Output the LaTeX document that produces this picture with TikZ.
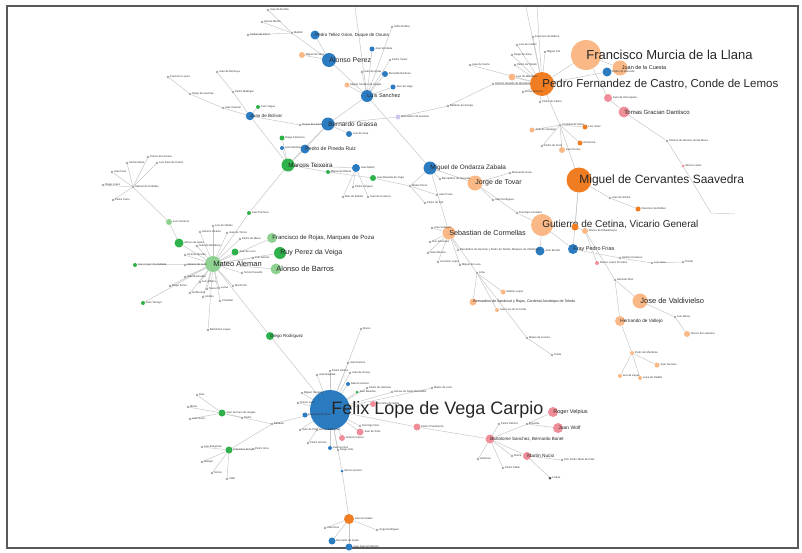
\documentclass[tikz,border=0pt]{standalone}
\usepackage{fontspec}
\setmainfont{Liberation Sans}
\usepackage{xcolor}
\usepackage{tikz}
\pgfdeclarelayer{edges}
\pgfsetlayers{edges,main}
\definecolor{pblue}{HTML}{2B7BC1}
\definecolor{porange}{HTML}{F07D22}
\definecolor{plorange}{HTML}{F9B886}
\definecolor{pgreen}{HTML}{2FB14C}
\definecolor{plgreen}{HTML}{8FD190}
\definecolor{ppink}{HTML}{EF8D98}
\definecolor{plilac}{HTML}{C9C7EE}

\begin{document}
\begin{tikzpicture}[x=1pt,y=-1pt,
		pers/.style={circle,inner sep=0pt,minimum size=#1},
		lab/.style={inner sep=0pt,text=black!85,font=\fontsize{#1}{#1}\selectfont},
		minor/.style={pers=2.6,fill=black!35,label={[lab=2.7,xshift=0.4pt,text=black!80]right:#1}},
		link/.style={draw=black!22,line width=0.5pt}]
		\useasboundingbox (0,0) rectangle (802,552);
		\draw[black!65,line width=1.2pt] (7,6) rectangle (798,548);
		% top blue group
		\node[pers=14,fill=pblue,label={[lab=7,xshift=-7pt]right:Alonso Perez}] (aperez) at (329,60) {};
		\node[pers=9,fill=pblue,label={[lab=4.5,xshift=-4.5pt]right:Pedro Tellez Giron, Duque de Osuna}] (osuna) at (315,35) {};
		\node[pers=12,fill=pblue,label={[lab=5.5,xshift=-6pt]right:Luis Sanchez}] (lsanchez) at (367,96) {};
		\node[pers=13,fill=pblue,label={[lab=6.4,xshift=-6.5pt]right:Bernardo Grassa}] (bgrassa) at (328,124) {};
		\node[pers=9,fill=pblue,label={[lab=5.2,xshift=-4.5pt]right:Pedro de Pineda Ruiz}] (pineda) at (305,149) {};
		\node[pers=8.5,fill=pblue,label={[lab=4.6,xshift=-4.2pt]right:Juan de Bolivar}] (bolivar) at (250,116) {};
		\node[pers=13,fill=pgreen,label={[lab=6.3,xshift=-6.5pt]right:Marcos Teixeira}] (teixeira) at (288,165) {};
		\node[minor=Madrid] (b1) at (292,33) {};
		\node[minor=Juan de Bonilla] (b2) at (268,10) {};
		\node[minor=Alonso Martin] (b3) at (262,22) {};
		\node[minor=Andres de Parra] (b4) at (248,35) {};
		\node[minor=Miguel de Siles,pers=6,fill=plorange] (b5) at (302,55) {};
		\node[minor=Juan de Mena,pers=5,fill=pblue] (b6) at (372,49) {};
		\node[minor=Isidro Robles] (b7) at (392,27) {};
		\node[minor=Pedro Yanez] (b8) at (390,60) {};
		\node[minor=Juan de Ayala] (b9) at (362,72) {};
		\node[minor=Bernardo Barbosa,pers=6,fill=pblue] (b10) at (385,74) {};
		\node[minor=Jose de Vega,pers=5,fill=pblue] (b11) at (393,87) {};
		\node[minor=Miguel Serrano de Vargas,pers=5,fill=plorange] (b12) at (347,85) {};
		\node[minor=Bernardino de Guzman,pers=5,fill=plilac] (b13) at (398,117) {};
		\node[minor=Baltasar de Zuniga] (b14) at (448,106) {};
		\node[minor=Luis de Sosa,pers=6,fill=pblue] (b15) at (349,134) {};
		\node[minor=Roque de Huerta] (b16) at (300,125) {};
		\node[minor=Diego Flamenco,pers=5,fill=pgreen] (b17) at (282,138) {};
		\node[minor=Juan Martinez,pers=4,fill=pblue] (b18) at (282,148) {};
		\node[minor=Juan Yague,pers=4,fill=pgreen] (b19) at (258,107) {};
		\node[minor=Pedro Madrigal] (b20) at (233,92) {};
		\node[minor=Juan de Montoya] (b21) at (217,72) {};
		\node[minor=Juan Gracian] (b22) at (223,108) {};
		\node[minor=Diego de Guzman] (b23) at (190,94) {};
		\node[minor=Francisco Lopez] (b24) at (168,77) {};
		\node[minor=Juan Mallol,pers=8,fill=pblue] (b25) at (356,168) {};
		\node[minor=Juan Bautista de Vega,pers=6,fill=pgreen] (b26) at (373,178) {};
		\node[minor=Miguel de Ribera,pers=4,fill=pgreen] (b27) at (328,172) {};
		\node[minor=Blas de Robles] (b29) at (343,197) {};
		\node[minor=Juan de la Serna] (b30) at (368,197) {};
		\node[minor=Pedro Vergara] (b31) at (353,187) {};
		\coordinate (topA) at (355,7);
		% green group
		\node[pers=16,fill=plgreen,label={[lab=7.5,xshift=-8pt]right:Mateo Aleman}] (aleman) at (213,264) {};
		\node[pers=10,fill=plgreen,label={[lab=6,xshift=-5pt]right:Francisco de Rojas, Marques de Poza}] (rojas) at (272,238) {};
		\node[pers=12,fill=pgreen,label={[lab=7,xshift=-6pt]right:Ruy Perez da Veiga}] (veiga) at (280,253) {};
		\node[pers=11,fill=plgreen,label={[lab=7.5,xshift=-5.5pt]right:Alonso de Barros}] (barros) at (276,269) {};
		\node[pers=8,fill=pgreen,label={[lab=4.4,xshift=-4pt]right:Diego Rodriguez}] (drodriguez) at (270,336) {};
		\node[minor=Juan de Leon,pers=7,fill=pgreen] (g1) at (235,252) {};
		\node[minor=Alonso de Ayala,pers=9,fill=pgreen] (g2) at (179,243) {};
		\node[minor=Luis Cisneros,pers=6,fill=plgreen] (g3) at (169,222) {};
		\node[minor=Juan Pacheco,pers=4,fill=pgreen] (g4) at (249,213) {};
		\node[minor=Gabriel de Ceballos] (g5) at (133,187) {};
		\node[minor=Juan Diaz] (g6) at (112,172) {};
		\node[minor=Diego Lopez] (g7) at (103,185) {};
		\node[minor=Pedro Cano] (g8) at (113,200) {};
		\node[minor=Andres Baez] (g9) at (127,163) {};
		\node[minor=Tomas de Herrera] (g10) at (148,157) {};
		\node[minor=Luis Paez de Castro] (g11) at (157,163) {};
		\node[minor=Juan Lopez de Andrada,pers=4,fill=pgreen] (g12) at (135,265) {};
		\node[minor=Antonio de Leon] (g13) at (185,265) {};
		\node[minor=Vicente Alvarez] (g14) at (185,255) {};
		\node[minor=Juan de Mendoza] (g15) at (197,246) {};
		\node[minor=Antonio Alvarez] (g16) at (200,232) {};
		\node[minor=Luis de Valdes] (g17) at (213,226) {};
		\node[minor=Juan de Torres] (g18) at (227,233) {};
		\node[minor=Pedro de Mena] (g19) at (240,239) {};
		\node[minor=Luis Gomez] (g20) at (253,258) {};
		\node[minor=Simon Faxardo] (g21) at (242,273) {};
		\node[minor=Juan Bermudez] (g22) at (185,277) {};
		\node[minor=Luis Ribero] (g23) at (200,282) {};
		\node[minor=Nunez] (g24) at (207,289) {};
		\node[minor=Diego Perez] (g25) at (170,286) {};
		\node[minor=Gil Moreno] (g26) at (190,293) {};
		\node[minor=Andres] (g27) at (203,297) {};
		\node[minor=Lucas] (g28) at (219,288) {};
		\node[minor=Martin Gil] (g29) at (233,286) {};
		\node[minor=Cristobal] (g30) at (220,301) {};
		\node[minor=Juan Tamayo,pers=4,fill=pgreen] (g31) at (143,303) {};
		\node[minor=Bartolome Lopez] (g32) at (208,330) {};
		% Lope
		\node[pers=40,fill=pblue,label={[lab=18,xshift=-19pt]right:Felix Lope de Vega Carpio}] (lope) at (330,410) {};
		\node[minor=Juan Ramos] (l1) at (348,363) {};
		\node[minor=Juan de Arroyo] (l2) at (350,373) {};
		\node[minor=Juan Baptista] (l3) at (317,375) {};
		\node[minor=Pedro Alonso] (l4) at (330,371) {};
		\node[minor=Gabriel Gomez,pers=4,fill=pblue] (l5) at (348,384) {};
		\node[minor=Juan Bautista,pers=3,fill=pgreen] (l6) at (357,392) {};
		\node[minor=Pedro de Valencia] (l7) at (367,388) {};
		\node[minor=Alonso de Salas Barbadillo] (l8) at (392,392) {};
		\node[minor=Jeronimo de Salas,pers=6,fill=ppink] (l9) at (373,404) {};
		\node[minor=Miguel Serrano] (l10) at (302,393) {};
		\node[minor=Tomas Junti] (l11) at (298,403) {};
		\node[minor=Francisco de Avila,pers=5,fill=pblue] (l12) at (305,415) {};
		\node[minor=Juan de Pina] (l13) at (300,430) {};
		\node[minor=Alonso Rodriguez] (l14) at (317,430) {};
		\node[minor=Pedro Gomez] (l15) at (308,443) {};
		\node[minor=Juan Gomez,pers=4,fill=pblue] (l16) at (330,448) {};
		\node[minor=Diego Vela] (l17) at (338,450) {};
		\node[minor=Antonio Garcia,pers=6,fill=ppink] (l18) at (342,438) {};
		\node[minor=Juan de Solis,pers=7,fill=ppink] (l19) at (360,432) {};
		\node[minor=Domingo Diaz] (l20) at (360,426) {};
		\node[minor=Pedro Craesbeeck,pers=7,fill=ppink] (l21) at (417,427) {};
		\node[minor=Mateo de Leon] (l22) at (432,388) {};
		\node[minor=Bruno] (l23) at (361,329) {};
		\node[minor=Alonso Gomez,pers=3,fill=pblue] (l24) at (342,471) {};
		\node[minor=Baltasar] (l25) at (272,424) {};
		\node[minor=Juan Gonzalez,pers=10,fill=porange] (lo1) at (349,519) {};
		\node[minor=Juan Ruiz] (lo2) at (325,528) {};
		\node[minor=Jorge Rodriguez] (lo3) at (377,530) {};
		\node[minor=Bernardo de Ayala,pers=7,fill=pblue] (lo4) at (332,541) {};
		\node[minor=Juan Garcia Infanzon,pers=7,fill=pblue] (lo5) at (349,547) {};
		\node[minor=Juan Serrano de Vargas,pers=7,fill=pgreen] (gl1) at (222,413) {};
		\node[minor=Francisco de Lyra,pers=7,fill=pgreen] (gl2) at (229,450) {};
		\node[minor=Ruiz] (gs1) at (197,395) {};
		\node[minor=Maria] (gs2) at (188,407) {};
		\node[minor=Juan Sanz] (gs3) at (190,419) {};
		\node[minor=Pedro] (gs4) at (242,418) {};
		\node[minor=Luis Estupinan] (gs5) at (202,447) {};
		\node[minor=Gaspar] (gs6) at (202,462) {};
		\node[minor=Simon] (gs7) at (212,473) {};
		\node[minor=Vidal] (gs8) at (227,479) {};
		\node[minor=Pedro Vera] (gs9) at (253,449) {};
		% pink group
		\node[pers=9,fill=ppink,label={[lab=4.5,xshift=-4.5pt]right:Bartolome Sanchez, Bernardo Bonet}] (pk1) at (490,439) {};
		\node[pers=10,fill=ppink,label={[lab=5.5,xshift=-5pt]right:Roger Velpius}] (velpius) at (553,412) {};
		\node[pers=10,fill=ppink,label={[lab=5,xshift=-5pt]right:Juan Wolf}] (wolf) at (558,428) {};
		\node[pers=8,fill=ppink,label={[lab=4.8,xshift=-4pt]right:Martin Nucio}] (nucio) at (527,456) {};
		\node[minor=Pedro Patricio] (pk2) at (499,424) {};
		\node[minor=Bruselas] (pk3) at (527,424) {};
		\node[minor=Don Pedro Nieto de Frias] (pk4) at (562,460) {};
		\node[minor=Lisboa,pers=3,fill=black!70] (pk5) at (550,478) {};
		\node[minor=Amberes] (pk6) at (478,459) {};
		\node[minor=Pedro Pablo] (pk7) at (503,468) {};
		\node[minor=Roma] (pk8) at (512,456) {};
		% orange group
		\node[pers=30,fill=plorange,label={[lab=13,xshift=-15pt]right:Francisco Murcia de la Llana}] (murcia) at (586,55) {};
		\node[pers=24,fill=porange,label={[lab=11.5,xshift=-12pt]right:Pedro Fernandez de Castro, Conde de Lemos}] (lemos) at (542,84) {};
		\node[pers=15,fill=plorange,label={[lab=5.5,xshift=-6pt]right:Juan de la Cuesta}] (cuesta) at (620,68) {};
		\node[pers=11,fill=ppink,label={[lab=6,xshift=-5.5pt]right:Tomas Gracian Dantisco}] (gracian) at (624,112) {};
		\node[pers=25,fill=porange,label={[lab=12,xshift=-12.5pt]right:Miguel de Cervantes Saavedra}] (cervantes) at (579,180) {};
		\node[pers=22,fill=plorange,label={[lab=10,xshift=-11pt]right:Gutierre de Cetina, Vicario General}] (cetina) at (542,225) {};
		\node[pers=15,fill=plorange,label={[lab=7,xshift=-7.5pt]right:Jorge de Tovar}] (tovar) at (475,183) {};
		\node[pers=13,fill=pblue,label={[lab=6.4,xshift=-6.5pt]right:Miguel de Ondarza Zabala}] (ondarza) at (430,168) {};
		\node[pers=13,fill=plorange,label={[lab=7.2,xshift=-6.5pt]right:Sebastian de Cormellas}] (cormellas) at (449,233) {};
		\node[pers=15,fill=plorange,label={[lab=7.5,xshift=-7.5pt]right:Jose de Valdivielso}] (valdivielso) at (640,301) {};
		\node[pers=10,fill=plorange,label={[lab=4.7,xshift=-5pt]right:Hernando de Vallejo}] (vallejo) at (620,321) {};
		\node[pers=10,fill=pblue,label={[lab=5.5,xshift=-5pt]right:Fray Pedro Frias}] (frias) at (573,249) {};
		\node[minor=Pedro de Acevedo,pers=9,fill=pblue] (o1) at (607,72) {};
		\node[minor=Juan de Amezqueta,pers=8,fill=ppink] (o2) at (608,98) {};
		\node[minor={Antonio de Herrera, Gil de Mesa}] (o3) at (667,141) {};
		\node[minor=Alonso Lopez,pers=3,fill=ppink] (o4) at (683,166) {};
		\coordinate (o5) at (711,213);
		\coordinate (o6) at (735,214);
		\node[minor=Luis de Mendoza,pers=7,fill=plorange] (o7) at (512,77) {};
		\node[minor=Juan de Sarria] (o8) at (470,65) {};
		\node[minor=Pedro de Toledo] (o9) at (515,65) {};
		\node[minor=Diego de Silva] (o10) at (512,55) {};
		\node[minor=Luis de Castro] (o11) at (517,45) {};
		\node[minor=Francisco de Ribera] (o12) at (533,37) {};
		\node[minor=Miguel Cid] (o13) at (545,52) {};
		\node[minor=Lucas Gracian] (o14) at (523,92) {};
		\node[minor=Pedro de Castro] (o15) at (540,102) {};
		\node[minor=Antonio Hurtado de Mendoza] (o16) at (493,84) {};
		\node[minor=Cristobal de Mesa] (o17) at (560,125) {};
		\node[minor=Juan de Jauregui,pers=5,fill=plorange] (o18) at (532,130) {};
		\node[minor=Luis Velez,pers=5,fill=porange] (o19) at (585,127) {};
		\node[minor=Gil Garcia,pers=5,fill=porange] (o20) at (580,143) {};
		\node[minor=Juan Cortes,pers=6,fill=plorange] (o21) at (562,150) {};
		\node[minor=Pedro de Soria] (o22) at (542,146) {};
		\coordinate (topB) at (526,7);
		\coordinate (topC) at (537,7);
		\node[minor=Juan de Urbina] (c1) at (610,198) {};
		\node[minor=Francisco de Robles,pers=5,fill=porange] (c2) at (638,209) {};
		\node[minor=Alonso de Ribadeneyra,pers=6,fill=plorange] (c3) at (585,231) {};
		\node[minor={},pers=7,fill=porange] (c4) at (575,227) {};
		\node[minor=Andres Carrasco] (c5) at (620,258) {};
		\node[minor=Luis Vaca] (c6) at (652,263) {};
		\node[minor=Toledo] (c7) at (683,262) {};
		\node[minor=Alonso Lopez Pinciano,pers=4,fill=ppink] (c8) at (597,263) {};
		\node[minor=Gerardo Diaz] (c9) at (615,280) {};
		\node[minor=Pedro de Mendoza,pers=4,fill=plorange] (c10) at (632,353) {};
		\node[minor=Luis Mexia] (c11) at (675,317) {};
		\node[minor=Alonso de Ledesma,pers=6,fill=plorange] (c12) at (687,334) {};
		\node[minor=Juan Serrano,pers=5,fill=plorange] (c13) at (657,365) {};
		\node[minor=Ana de Zayas,pers=4,fill=plorange] (c14) at (620,376) {};
		\node[minor=Luisa de Padilla,pers=4,fill=plorange] (c15) at (640,378) {};
		\node[minor=Manuel de Sosa] (tv1) at (510,173) {};
		\node[minor=Juan Rodriguez] (tv2) at (493,200) {};
		\node[minor=Domingo Gonzalez] (tv3) at (517,213) {};
		\node[minor=Bernardino de Guevara] (od1) at (440,179) {};
		\node[minor=Mateo Perez] (od2) at (410,186) {};
		\node[minor=Juan Perez] (od3) at (437,195) {};
		\node[minor=Pedro de Paz] (od4) at (425,203) {};
		\node[minor=Juan Vazquez] (cm1) at (432,228) {};
		\node[minor=Luis Gonzalez] (cm2) at (430,242) {};
		\node[minor=Juan Moreno] (cm3) at (428,253) {};
		\node[minor=Jeronimo Lopez] (cm4) at (438,262) {};
		\node[minor=Miguel de Luna] (cm5) at (460,265) {};
		\node[minor=Juan Berrillo,pers=9,fill=pblue] (cm6) at (540,251) {};
		\node[minor={Bernardino de Guzman y Pedro de Toledo, Marques de Villafranca}] (cm7) at (458,250) {};
		\node[minor=Lima] (cm8) at (477,273) {};
		\node[pers=7,fill=plorange,label={[lab=3.6,xshift=-3.5pt]right:Bernardino de Sandoval y Rojas, Cardenal Arzobispo de Toledo}] (cm9) at (473,302) {};
		\node[minor=Gabriel Lopez,pers=5,fill=plorange] (cm10) at (503,292) {};
		\node[minor=Juan Luis de la Cerda,pers=4,fill=plorange] (cm11) at (497,310) {};
		\node[minor=Mateo de Lucena] (cm12) at (527,338) {};
		\node[minor=Costa] (cm13) at (552,355) {};
		% connectors
		\begin{pgfonlayer}{edges}
			\foreach \a/\b in {b2/b1,b3/b1,b4/b1,b1/aperez,osuna/aperez,b5/aperez,aperez/lsanchez,
				b6/lsanchez,b7/lsanchez,b8/lsanchez,b9/lsanchez,b10/lsanchez,b11/lsanchez,b12/lsanchez,
				topA/lsanchez,lsanchez/bgrassa,bgrassa/b13,b13/b14,b14/o16,o16/lemos,bgrassa/b15,
				bgrassa/pineda,bgrassa/teixeira,bolivar/b16,b16/bgrassa,teixeira/pineda,teixeira/b17,
				teixeira/b18,teixeira/bolivar,bolivar/b19,bolivar/b20,b20/b21,bolivar/b22,b22/b23,
				b23/b24,teixeira/b27,b27/b26,teixeira/b25,b25/b29,b25/b30,b25/b31,b26/od2,lsanchez/ondarza,
				g6/g5,g7/g5,g8/g5,g9/g5,g10/g5,g11/g5,g5/g3,g3/g2,g2/aleman,aleman/g4,g4/teixeira,
				aleman/rojas,aleman/veiga,aleman/barros,aleman/g1,aleman/drodriguez,drodriguez/lope,
				l23/lope,l24/lope,l24/lo1,lo1/lo2,lo1/lo3,lo1/lo4,lo1/lo5,l25/lope,l25/gl1,l25/gl2,
				gs1/gl1,gs2/gl1,gs3/gl1,gs4/gl1,gs5/gl2,gs6/gl2,gs7/gl2,gs8/gl2,gs9/gl2,l21/pk1,
				pk1/pk2,pk1/pk3,pk3/velpius,pk3/wolf,pk1/nucio,nucio/pk4,nucio/pk5,pk1/pk6,pk1/pk7,pk1/pk8,
				lemos/murcia,murcia/cuesta,o1/cuesta,o1/lemos,murcia/o2,o2/gracian,gracian/o3,o3/o4,o4/o5,o5/o6,
				lemos/topB,lemos/topC,o17/lemos,o17/o18,o17/o19,o17/o20,o17/o21,o17/o22,o17/cervantes,
				cervantes/c1,c1/c2,cervantes/c4,c4/cetina,c4/c3,c3/c8,c3/c9,frias/cervantes,frias/c5,c5/c6,
				c6/c7,c9/valdivielso,c9/vallejo,valdivielso/c11,c11/c12,vallejo/c10,c10/c13,c10/c14,c10/c15,
				cetina/frias,cetina/cm6,tovar/tv3,tv3/cetina,tovar/tv1,tovar/tv2,ondarza/tovar,ondarza/od1,
				ondarza/od2,od2/od3,od2/od4,ondarza/cormellas,cormellas/cm1,cormellas/cm2,cormellas/cm3,
				cormellas/cm4,cormellas/cm5,cormellas/cm7,cormellas/cm8,cm8/cm9,cm8/cm10,cm8/cm11,cm8/cm12,cm12/cm13}
			\draw[link] (\a) -- (\b);
			\foreach \i in {12,...,32}
			\draw[link] (g\i) -- (aleman);
			\foreach \i in {1,...,22}
			\draw[link] (l\i) -- (lope);
			\foreach \i in {7,...,15}
			\draw[link] (o\i) -- (lemos);
		\end{pgfonlayer}
	\end{tikzpicture}
\end{document}
